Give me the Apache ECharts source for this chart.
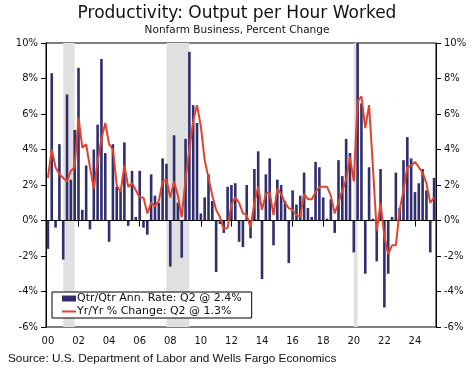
<!DOCTYPE html>
<html><head><meta charset="utf-8">
<script src="https://cdn.jsdelivr.net/npm/echarts@6/dist/echarts.min.js"></script>
<style>html,body{margin:0;padding:0;background:#fff}#c{width:474px;height:368px}</style>
</head><body><div id="c"></div>
<script>
// Quarterly categories 2000Q1 .. 2025Q2
const quarters = [];
for (let y = 2000; y <= 2025; y++) {
  for (let q = 1; q <= 4; q++) {
    if (y === 2025 && q > 2) break;
    quarters.push(y + 'Q' + q);
  }
}
// Qtr/Qtr annualized rate (%)
const qtrAnnRate = [
  -1.6, 8.3, -0.4, 4.3,   -2.2, 7.1, 2.3, 5.1,   8.6, 0.6, 3.1, -0.5,   4.0, 5.4, 9.1, 3.8,
  -1.2, 4.3, 1.9, 1.7,    4.4, -0.3, 2.8, 0.2,   2.8, -0.4, -0.8, 2.6,  1.4, 1.0, 3.5, 3.2,
  -2.6, 4.8, 1.0, -2.1,   4.6, 9.5, 6.5, 5.5,    0.4, 1.3, 2.6, 1.1,    -2.9, -0.2, -0.7, 1.9,
  2.0, 2.1, -1.2, -1.5,   2.0, -1.0, 2.9, 3.9,   -3.3, 2.6, 3.5, -1.4,  2.3, 2.0, 1.1, -2.4,
  1.7, 0.9, 1.4, 2.7,     0.7, 0.2, 3.3, 3.0,    1.3, 0.1, 1.2, -0.7,   3.4, 2.5, 4.6, 3.8,
  -1.8, 10.0, 6.6, -3.0,  3.0, 0.1, -2.3, 2.9,   -4.9, -3.0, 0.2, 2.7,  0.7, 3.4, 4.7, 3.5,
  1.6, 2.1, 2.9, 1.7,     -1.8, 2.4
];
// Yr/Yr % change
const yrYrChange = [
  2.4, 4.0, 3.0, 2.6,   2.4, 2.2, 2.8, 3.0,   5.8, 4.1, 4.3, 3.0,   1.8, 3.3, 4.6, 5.5,
  4.3, 4.0, 2.0, 1.6,   3.1, 1.9, 2.1, 1.7,   1.3, 1.3, 0.4, 1.0,   0.8, 1.1, 2.2, 2.3,
  1.3, 2.2, 1.4, 0.2,   2.3, 4.0, 5.6, 6.5,   5.3, 3.4, 2.4, 1.4,   0.6, 0.2, -0.5, -0.4,
  0.9, 1.3, 1.0, 0.4,   0.3, -0.4, 1.0, 1.9,  0.6, 1.5, 1.6, 0.3,   1.8, 1.5, 1.0, 0.7,
  0.6, 0.3, 0.2, 1.5,   1.2, 1.2, 1.6, 1.9,   1.9, 1.9, 1.4, 0.4,   1.0, 1.7, 2.3, 3.6,
  2.2, 6.7, 7.0, 5.2,   6.5, 3.0, -0.6, 1.0,  -0.9, -1.9, -1.4, -1.4, 0.6, 1.7, 3.0, 3.1,
  3.3, 3.0, 2.7, 2.1,   1.0, 1.3
];
const xTickLabels = ['00','02','04','06','08','10','12','14','16','18','20','22','24'];
const recessions = [['2001Q1','2001Q4'], ['2007Q4','2009Q2'], ['2020Q1','2020Q2']];
const legendNames = ['Qtr/Qtr Ann. Rate: Q2 @ 2.4%', 'Yr/Yr % Change: Q2 @ 1.3%'];

const FONT = 'DejaVu Sans';
const chart = echarts.init(document.getElementById('c'), null, {renderer: 'canvas'});
const yAxisCommon = {
  type: 'value', min: -6, max: 10, interval: 2,
  splitLine: {show: false},
  axisLine: {show: true, lineStyle: {color: '#000', width: 1}},
  axisTick: {show: true, length: 5, lineStyle: {color: '#000'}},
  axisLabel: {formatter: '{value}%', color: '#111', fontFamily: FONT, fontSize: 10, margin: 8}
};
chart.setOption({
  animation: false,
  backgroundColor: '#fff',
  grid: {left: 46, right: 38, top: 43, bottom: 41, show: true, borderColor: '#000', borderWidth: 1, backgroundColor: 'transparent'},
  graphic: [
    {type: 'text', left: 'center', top: 5, style: {text: 'Productivity: Output per Hour Worked', font: '17px "DejaVu Sans"', fill: '#111'}},
    {type: 'text', left: 'center', top: 25, style: {text: 'Nonfarm Business, Percent Change', font: '10.5px "DejaVu Sans"', fill: '#111'}},
    {type: 'text', left: 8, top: 353, style: {text: 'Source: U.S. Department of Labor and Wells Fargo Economics', font: '11.8px "Liberation Sans"', fill: '#111'}}
  ],
  legend: {
    left: 52, top: 292, orient: 'vertical',
    padding: [1, 10, 1, 10], itemGap: 2, itemWidth: 14, itemHeight: 6,
    borderColor: '#000', borderWidth: 1, backgroundColor: '#fff',
    textStyle: {fontFamily: FONT, fontSize: 11, color: '#111', padding: [0, 0, 0, -4]},
    data: [
      {name: legendNames[0], icon: 'rect'},
      {name: legendNames[1], icon: 'path://M0,0 L14,0 L14,2 L0,2 Z'}
    ]
  },
  xAxis: {
    type: 'category', data: quarters, boundaryGap: true,
    axisLine: {show: true, lineStyle: {color: '#000'}},
    axisTick: {show: true, alignWithLabel: true, length: 6, interval: (i) => i % 8 === 0, lineStyle: {color: '#000'}},
    axisLabel: {interval: (i) => i % 8 === 0, formatter: (v, i) => xTickLabels[i / 8], color: '#111', fontFamily: FONT, fontSize: 10, margin: 9},
    splitLine: {show: false}
  },
  yAxis: [
    Object.assign({}, yAxisCommon, {position: 'left'}),
    Object.assign({}, yAxisCommon, {position: 'right'})
  ],
  series: [
    {
      name: 'Recession', type: 'custom', silent: true, z: 1,
      data: recessions.map(r => [quarters.indexOf(r[0]), quarters.indexOf(r[1])]),
      encode: {x: [0, 1]},
      renderItem: (params, api) => {
        const x0 = api.coord([api.value(0), 0])[0];
        const x1 = api.coord([api.value(1), 0])[0];
        const cs = params.coordSys;
        return {type: 'rect', shape: {x: x0, y: cs.y, width: x1 - x0, height: cs.height},
          style: {fill: '#E0E0E0'}};
      }
    },
    {
      name: legendNames[0], type: 'bar', data: qtrAnnRate, barWidth: '68%', z: 2,
      itemStyle: {color: '#312E6E'},
      markLine: {silent: true, symbol: 'none', label: {show: false},
        lineStyle: {color: '#000', width: 1, type: 'solid'}, data: [{yAxis: 0}]}
    },
    {
      name: legendNames[1], type: 'line', data: yrYrChange, symbol: 'none',
      lineStyle: {color: '#E0442C', width: 2}, itemStyle: {color: '#E0442C'}, z: 5
    }
  ]
});
</script></body></html>
